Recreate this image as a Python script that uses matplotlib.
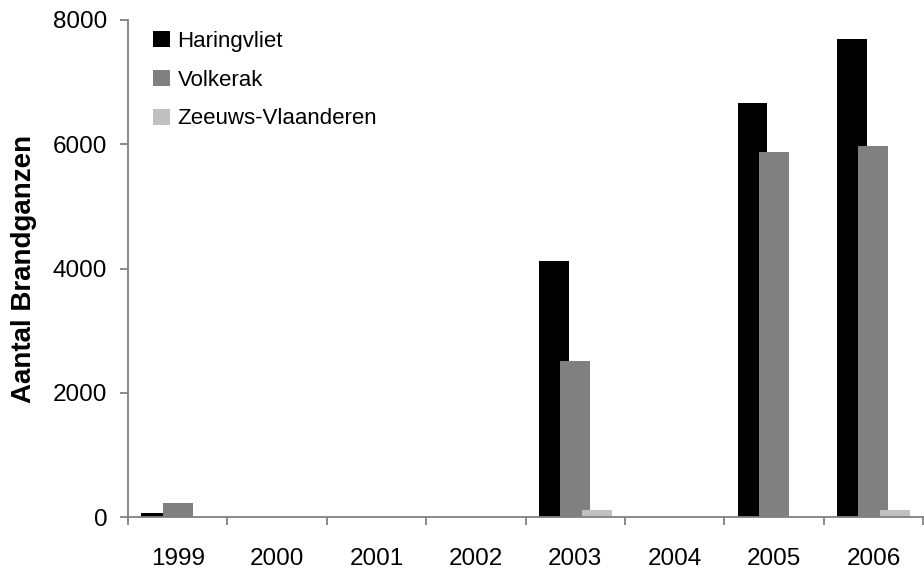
import matplotlib
matplotlib.use("Agg")
import matplotlib.pyplot as plt
import numpy as np

years = ['1999', '2000', '2001', '2002', '2003', '2004', '2005', '2006']
haringvliet = [65, 0, 0, 0, 4120, 0, 6660, 7700]
volkerak = [230, 0, 0, 0, 2510, 0, 5880, 5970]
zeeuws_vlaanderen = [0, 0, 0, 0, 110, 0, 0, 115]
series_names = ['Haringvliet', 'Volkerak', 'Zeeuws-Vlaanderen']
colors = ['#000000', '#808080', '#c0c0c0']

plt.rcParams['font.family'] = ['Liberation Sans', 'DejaVu Sans']

fig = plt.figure(figsize=(9.24, 5.69), dpi=100)
ax = fig.add_axes([128/924, 1-517/569, 796/924 - 0.001, 497/569])

x = np.arange(len(years)) + 0.5
w = 0.3
off = 0.216
for vals, dx, c, name in zip([haringvliet, volkerak, zeeuws_vlaanderen], [-off, 0, off], colors, series_names):
    ax.bar(x + dx, vals, width=w, color=c, label=name, linewidth=0)

ax.set_xlim(0, len(years))
ax.set_ylim(0, 8000)
ax.set_yticks([0, 2000, 4000, 6000, 8000])
ax.set_xticks(x)
ax.set_xticklabels(years)
ax.set_xticks(np.arange(0, len(years) + 1), minor=True)

axcol = '#808080'
for s in ['top', 'right']:
    ax.spines[s].set_visible(False)
for s in ['left', 'bottom']:
    ax.spines[s].set_color(axcol)
    ax.spines[s].set_linewidth(1.3)

ax.tick_params(axis='x', which='major', length=0, pad=22, labelsize=17.5)
ax.tick_params(axis='x', which='minor', length=6, width=1.3, color=axcol, direction='out')
ax.tick_params(axis='y', which='major', length=6, width=1.3, color=axcol, direction='out', pad=9, labelsize=17.5)

ax.set_ylabel('Aantal Brandganzen', fontsize=20, fontweight='bold', va='center')
ax.yaxis.set_label_coords(-0.131, 0.5)

leg = ax.legend(loc='upper left', bbox_to_anchor=(0.0314, 0.978), frameon=False,
                fontsize=16, handlelength=0.75, handleheight=0.75, handletextpad=0.35,
                labelspacing=0.8, borderpad=0, borderaxespad=0)

fig.savefig('out.png', dpi=100)
